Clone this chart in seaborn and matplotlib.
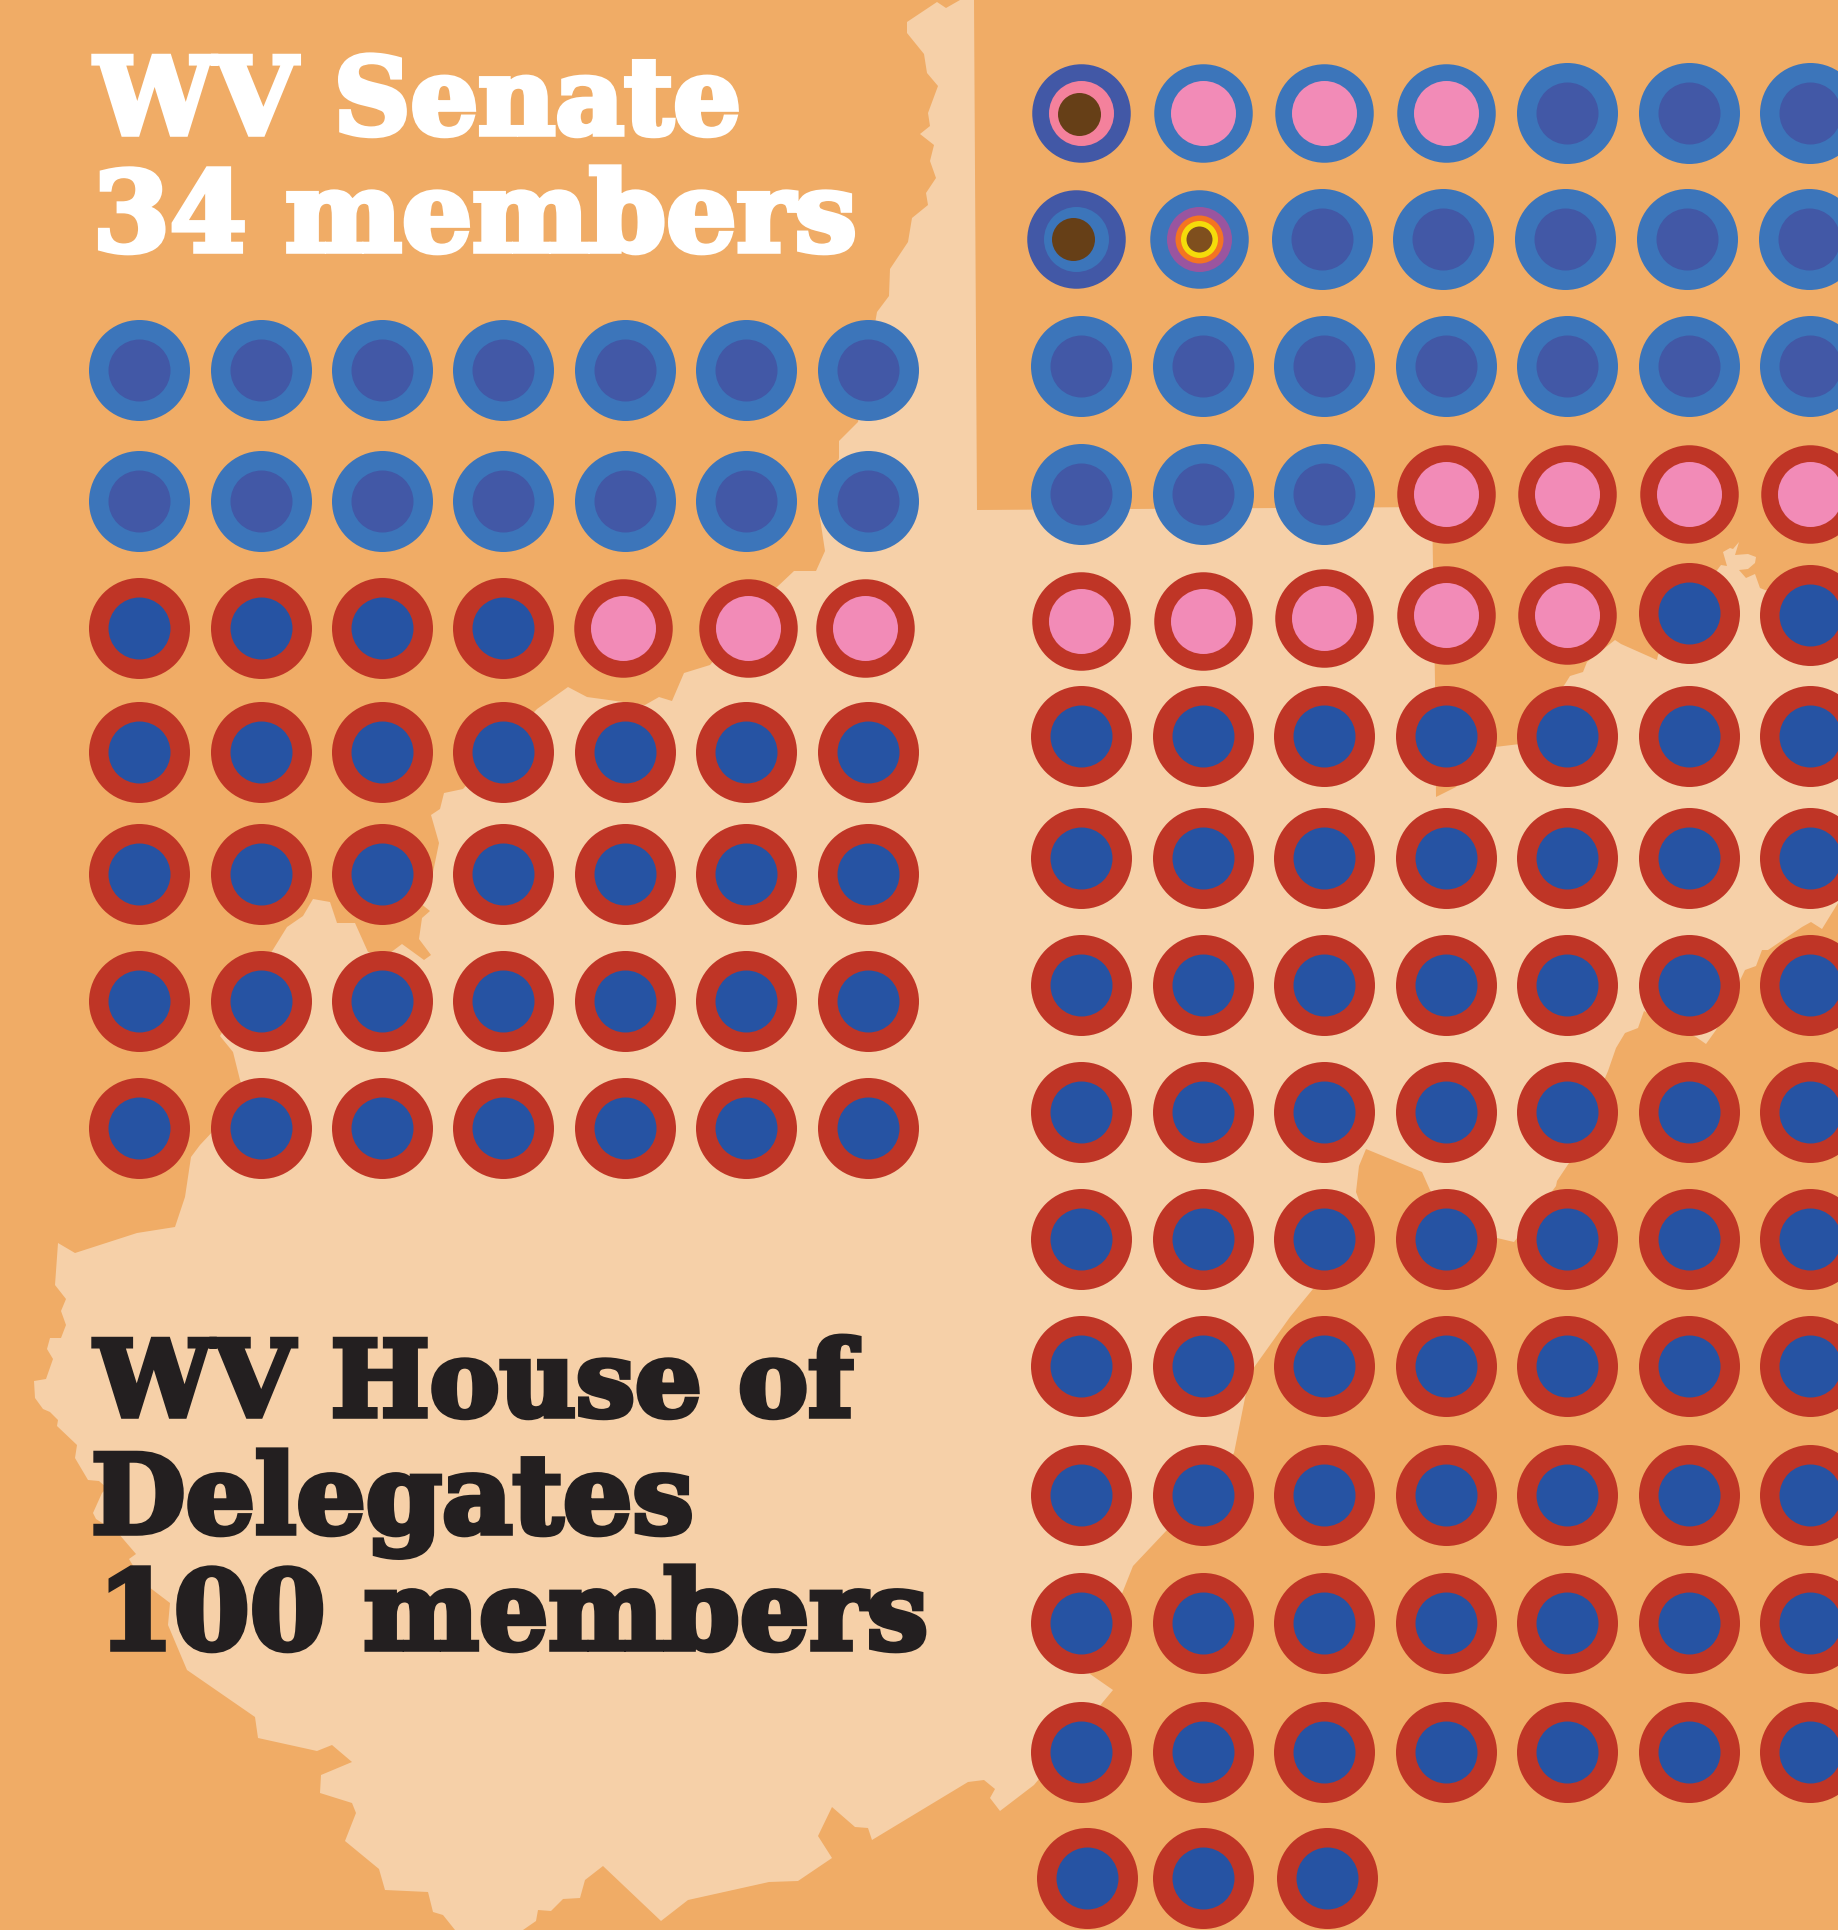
import numpy as np
import pandas as pd
import seaborn as sns
import matplotlib.pyplot as plt
import matplotlib.patheffects as pe
from matplotlib.patches import Polygon

# 座位数据: 每个字母是一个席位的类型
senate_rows = ['DDDDDDD', 'DDDDDDD', 'RRRRPPP', 'RRRRRRR', 'RRRRRRR', 'RRRRRRR', 'RRRRRRR']
house_rows = ['AQQQDDD', 'BCDDDDD', 'DDDDDDD', 'DDDPPPP', 'PPPPPRR',
              'RRRRRRR', 'RRRRRRR', 'RRRRRRR', 'RRRRRRR', 'RRRRRRR',
              'RRRRRRR', 'RRRRRRR', 'RRRRRRR', 'RRRRRRR', 'RRR']
titles_senate = ['WV Senate', '34 members']
titles_house = ['WV House of', 'Delegates', '100 members']

# 颜色
BG = '#F0AC66'
LAND = '#F6D0A8'
BLUE = '#3C75BA'
DARK = '#4258A6'
RED = '#BF3526'
ROYAL = '#2653A3'
PINK = '#F28BB7'
BROWN = '#663F17'

# 每种席位的同心圆: (颜色, 直径px, dx, dy)
rings = {
    'D': [(BLUE, 101, 0, 0), (DARK, 62, 0, 0)],
    'R': [(RED, 101, 0, 0), (ROYAL, 62, 0, 0)],
    'P': [(RED, 98.5, 0, 0), (PINK, 65, 0, 0)],
    'Q': [(BLUE, 98.5, 0, 0), (PINK, 65, 0, 0)],
    'A': [(DARK, 98.5, 0, 0), ('#F4819C', 65, 0, 0), (BROWN, 43, -1.7, 1.3)],
    'B': [(DARK, 98.5, 0, 0), (BLUE, 65, 0, 0), (BROWN, 43, -3, 0)],
    'C': [(BLUE, 98.5, 0, 0), ('#9A559F', 65, 0, 0), ('#F47421', 48, 0, 0),
          ('#F4DC0A', 37, 0, 0), ('#7F4F1E', 26, 0, 0)],
}

# 网格位置
senate_x = [139, 260.5, 381.5, 503, 625, 746, 868]
senate_y = [370, 500.5, 627.5, 751.5, 874, 1000.5, 1127.5]
senate_x3 = [139, 260.5, 381.5, 503, 623, 748, 865]
house_x = [1081, 1202.5, 1324, 1445.5, 1567, 1689, 1810]
house_x2 = [1076, 1199, 1321.5, 1443, 1565, 1687, 1809]
house_x15 = [1087, 1202.5, 1327]
house_y = [113, 239, 365.5, 494, 615, 736, 858, 985, 1112, 1239, 1366, 1495, 1623, 1752, 1878]
house_y5 = [620.6, 620.6, 617.8, 615, 615, 612.6, 615]

# 州地图轮廓 (像素)
land_outline = [
    (937, 2), (946, 8), (960, 0), (974, 0), (977, 510), (1432, 507), (1435, 681), (1436, 797),
    (1456, 787), (1495, 747), (1520, 744), (1565, 684), (1570, 676), (1583, 672), (1587, 662),
    (1615, 640), (1621, 644), (1657, 660), (1658, 655), (1718, 569), (1721, 565), (1727, 566),
    (1723, 552), (1730, 548), (1733, 549), (1739, 542), (1735, 555), (1748, 554), (1756, 557),
    (1755, 563), (1748, 569), (1739, 570), (1746, 578), (1755, 574), (1760, 588), (1765, 590),
    (1838, 600), (1838, 903), (1822, 929), (1811, 922), (1802, 927), (1768, 950), (1762, 950),
    (1756, 966), (1745, 970), (1716, 1030), (1706, 1044), (1696, 1037), (1644, 1011), (1638, 1028),
    (1625, 1033), (1616, 1048), (1608, 1071), (1569, 1163), (1557, 1181), (1556, 1186), (1514, 1242),
    (1497, 1238), (1445, 1210), (1430, 1190), (1422, 1172), (1366, 1149), (1359, 1166), (1356, 1192),
    (1370, 1230), (1313, 1289), (1290, 1317), (1250, 1373), (1234, 1453), (1167, 1530), (1133, 1566),
    (1090, 1674), (1113, 1690), (1034, 1785), (1000, 1811), (990, 1798), (995, 1789), (984, 1780),
    (968, 1782), (872, 1840), (868, 1828), (855, 1827), (832, 1807), (818, 1836), (832, 1858),
    (798, 1881), (769, 1882), (688, 1900), (661, 1921), (603, 1866), (585, 1880), (580, 1898),
    (563, 1899), (551, 1911), (538, 1910), (536, 1921), (523, 1930), (455, 1930), (443, 1915),
    (433, 1912), (428, 1892), (385, 1890), (379, 1869), (345, 1841), (356, 1813), (352, 1803),
    (320, 1793), (321, 1775), (352, 1762), (332, 1745), (317, 1751), (258, 1738), (255, 1717),
    (187, 1670), (168, 1625), (170, 1603), (145, 1584), (132, 1564), (129, 1559), (136, 1554),
    (118, 1533), (96, 1519), (93, 1513), (102, 1493), (107, 1488), (99, 1481), (88, 1480),
    (75, 1458), (77, 1445), (57, 1426), (58, 1420), (50, 1412), (43, 1409), (35, 1398),
    (34, 1381), (46, 1379), (53, 1359), (47, 1349), (50, 1338), (61, 1338), (66, 1325),
    (61, 1311), (66, 1299), (55, 1285), (58, 1243), (75, 1253), (137, 1233), (175, 1227),
    (185, 1197), (191, 1157), (200, 1145), (246, 1096), (240, 1080), (233, 1052), (220, 1036),
    (274, 948), (287, 927), (303, 916), (313, 899), (330, 902), (337, 923), (355, 923),
    (368, 952), (386, 956), (402, 944), (424, 960), (431, 955), (419, 939), (422, 918),
    (430, 911), (420, 903), (432, 877), (439, 843), (431, 815), (440, 809), (444, 793),
    (463, 789), (537, 709), (568, 687), (587, 697), (645, 705), (659, 697), (672, 701),
    (684, 673), (710, 665), (776, 588), (794, 571), (816, 571), (825, 551), (820, 518),
    (839, 458), (839, 441), (858, 422), (877, 312), (889, 296), (890, 269), (908, 242),
    (912, 218), (928, 205), (926, 193), (936, 178), (930, 161), (934, 145), (920, 134),
    (930, 126), (928, 113), (938, 86), (927, 73), (924, 54), (907, 33), (907, 22),
]


def seats_to_frame(rows, x_for_row, y_for_row):
    """把席位字母展开成同心圆图层表"""
    records = []
    for r, row in enumerate(rows):
        xs = x_for_row(r)
        ys = y_for_row(r)
        for c, code in enumerate(row):
            for layer, (color, d, dx, dy) in enumerate(rings[code]):
                records.append({'x': xs[c] + dx, 'y': ys[c] + dy, 'layer': layer,
                                'color': color, 'd': d})
    return pd.DataFrame(records)


senate = seats_to_frame(
    senate_rows,
    lambda r: senate_x3 if r == 2 else senate_x,
    lambda r: [senate_y[r]] * 7,
)


def house_row_x(r):
    if r == 1:
        return house_x2
    if r == 14:
        return house_x15
    return house_x


def house_row_y(r):
    if r == 4:
        return house_y5
    return [house_y[r]] * 7


house = seats_to_frame(house_rows, house_row_x, house_row_y)
seats = pd.concat([senate, house], ignore_index=True)

sns.set_theme(style='white')
plt.rcParams['font.family'] = ['DejaVu Serif']

fig = plt.figure(figsize=(18.38, 19.30), dpi=100, facecolor=BG)
ax = fig.add_axes([0, 0, 1, 1])
ax.set_facecolor(BG)
ax.add_patch(Polygon(land_outline, closed=True, facecolor=LAND, edgecolor='none', zorder=1))

# 从外圈到内圈逐层画
for layer, part in seats.groupby('layer'):
    for (color, d), sub in part.groupby(['color', 'd']):
        sns.scatterplot(data=sub, x='x', y='y', color=color, s=(d * 0.72) ** 2,
                        linewidth=0, ax=ax, legend=False, zorder=2 + layer)

ax.set_xlim(0, 1838)
ax.set_ylim(1930, 0)
ax.axis('off')

for txt, x, y, fs in zip(titles_senate, [95, 93], [134, 251], [76.5, 79.5]):
    ax.text(x, y, txt, color='white', fontsize=fs, fontweight='bold', va='baseline', ha='left',
            zorder=10, path_effects=[pe.withStroke(linewidth=4, foreground='white', joinstyle='miter')])
for txt, x, y, fs in zip(titles_house, [95, 91, 98], [1416, 1533, 1649], [75.5, 78.5, 78.5]):
    ax.text(x, y, txt, color='#231F20', fontsize=fs, fontweight='bold', va='baseline', ha='left',
            zorder=10, path_effects=[pe.withStroke(linewidth=4, foreground='#231F20', joinstyle='miter')])

fig.savefig('out.png', dpi=100, facecolor=BG)
